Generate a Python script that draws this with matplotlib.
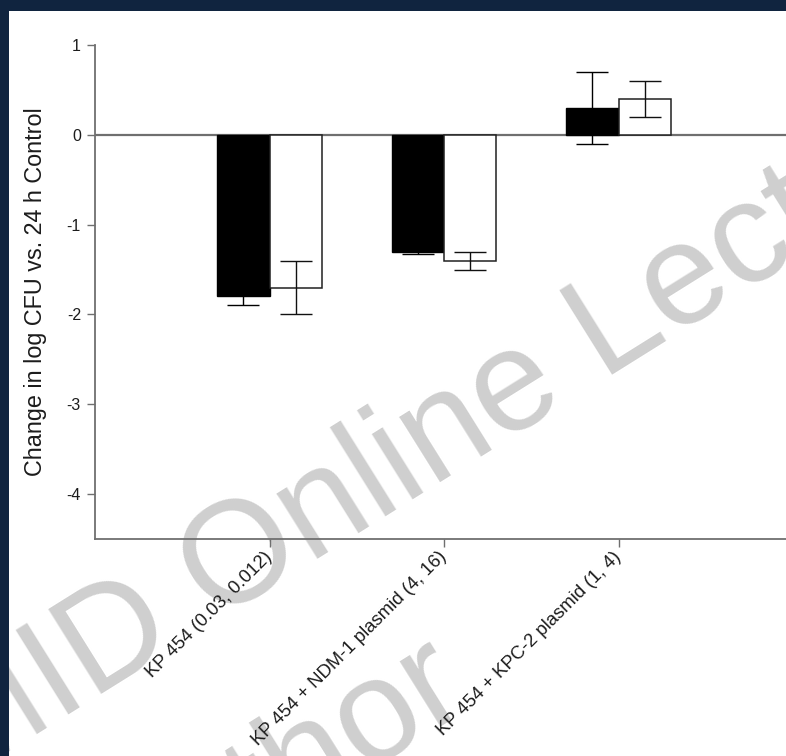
import matplotlib
matplotlib.use("Agg")
import matplotlib.pyplot as plt
from matplotlib.patches import Rectangle
import numpy as np

plt.rcParams['font.family'] = ['Liberation Sans', 'DejaVu Sans']

# Strains (MICs in parentheses)
categories = [
    "KP 454 (0.03, 0.012)",
    "KP 454 + NDM-1 plasmid (4, 16)",
    "KP 454 + KPC-2 plasmid (1, 4)",
]
# Change in log CFU vs. 24 h control, two regimens per strain
series_black = [-1.8, -1.3, 0.3]
err_black = [0.1, 0.03, 0.4]
series_white = [-1.7, -1.4, 0.4]
err_white = [0.3, 0.1, 0.2]
yticks = [1, 0, -1, -2, -3, -4]

W, H = 786, 756
fig = plt.figure(figsize=(W / 100, H / 100), dpi=100)
fig.patch.set_facecolor("white")

# axes placed in pixel units
left, right, top, bottom = 95, 95 + 4 * 174.5, 45, 539
ax = fig.add_axes([left / W, 1 - bottom / H, (right - left) / W, (bottom - top) / H])
ax.set_facecolor("none")

x = np.arange(1, len(categories) + 1)
bw = 0.30
gray = "#6f6f6f"
txt = "#1c1c1c"

ax.axhline(0, color=gray, lw=1.6, zorder=1)

ax.bar(x - bw / 2, series_black, width=bw, color="black", edgecolor="black",
       linewidth=1.0, zorder=2)
ax.bar(x + bw / 2, series_white, width=bw, color="white", edgecolor="#202020",
       linewidth=1.1, zorder=2)
ax.errorbar(x - bw / 2, series_black, yerr=err_black, fmt="none", ecolor="black",
            elinewidth=1.0, capsize=11.5, capthick=1.0, zorder=3)
ax.errorbar(x + bw / 2, series_white, yerr=err_white, fmt="none", ecolor="#111111",
            elinewidth=1.0, capsize=11.5, capthick=1.0, zorder=3)

ax.set_xlim(0, 4)
ax.set_ylim(-4.5, 1)
ax.set_yticks(yticks)
ax.set_yticklabels([str(v) for v in yticks], fontsize=11.5, color=txt)
ax.set_xticks(x)
ax.set_xticklabels(categories, rotation=45, ha="right", va="center",
                   rotation_mode="anchor", fontsize=13.3, color=txt)

for s in ("top", "right"):
    ax.spines[s].set_visible(False)
for s in ("left", "bottom"):
    ax.spines[s].set_color(gray)
    ax.spines[s].set_linewidth(1.3)
ax.tick_params(axis="both", direction="out", length=5.8, width=1.0, color=gray)
ax.tick_params(axis="y", pad=4.3)
ax.tick_params(axis="x", pad=5)

ax.set_ylabel("Change in log CFU vs. 24 h Control", fontsize=16.8, color=txt)
ax.yaxis.set_label_coords((47 - left) / (right - left), 0.5)

# watermark behind the plot
wm = dict(rotation=32, rotation_mode="anchor", ha="left", va="baseline",
          fontsize=104, color="#cfcfcf", zorder=-1)
fig.text(-45 / W, 1 - 785 / H, "MID Online Lecture", **wm)
fig.text(113 / W, 1 - 931 / H, "Author", **wm)

# dark slide frame along top and left edges
fig.patches.append(Rectangle((0, 1 - 11 / H), 1, 11 / H, transform=fig.transFigure,
                             facecolor="#10243f", edgecolor="none", zorder=10))
fig.patches.append(Rectangle((0, 0), 9 / W, 1, transform=fig.transFigure,
                             facecolor="#10243f", edgecolor="none", zorder=10))

fig.savefig("out.png", dpi=100)
